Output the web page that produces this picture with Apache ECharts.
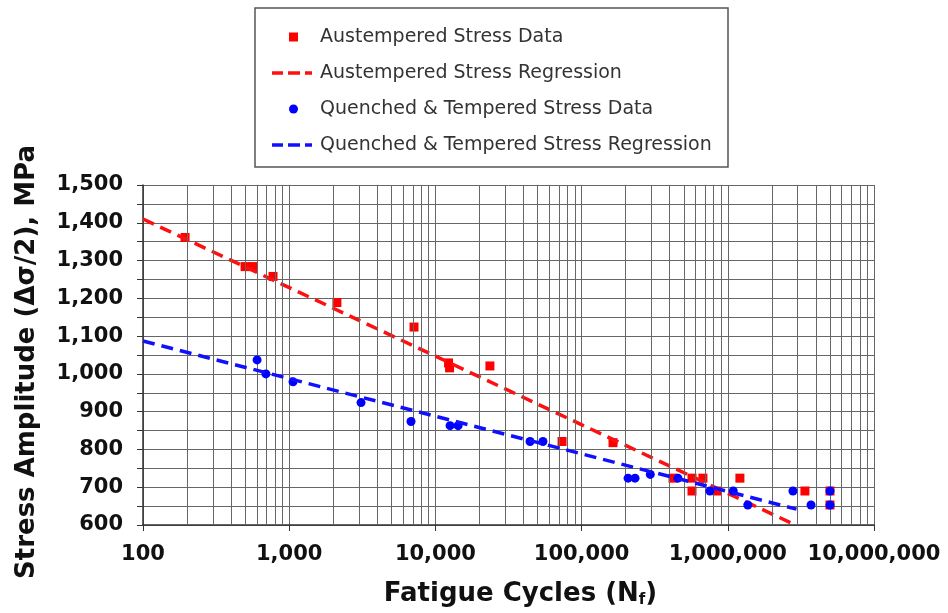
<!DOCTYPE html>
<html>
<head>
<meta charset="utf-8">
<script src="https://cdn.jsdelivr.net/npm/echarts@6/dist/echarts.min.js"></script>
<style>
  html, body { margin: 0; padding: 0; background: #fff; }
  #chart { width: 948px; height: 613px; }
</style>
</head>
<body>
<div id="chart"></div>
<script>
// Austempered stress data (cycles, MPa)
const atCycles = [194, 499, 565, 775, 2120, 7140, 12300, 12500, 23600, 73500, 164000, 422000, 569000, 676000, 569000, 844000, 1210000, 3370000, 5000000, 5000000]
const atStress = [1361, 1284, 1284, 1258, 1189, 1124, 1029, 1016, 1021, 821, 818, 724, 724, 724, 690, 690, 724, 690, 690, 653]

// Quenched & tempered stress data
const qtCycles = [603, 693, 1062, 3100, 6810, 12600, 14300, 44400, 54400, 208000, 232000, 295000, 456000, 755000, 1090000, 1370000, 2790000, 3710000, 5000000, 5000000]
const qtStress = [1037, 1000, 979, 924, 874, 863, 863, 821, 821, 724, 724, 734, 724, 690, 690, 653, 690, 653, 690, 653]

// regression lines (end points)
const atRegCycles = [100, 2900000]
const atRegStress = [1410, 600]
const qtRegCycles = [100, 2950000]
const qtRegStress = [1087, 642]

const yMin = 600
const yMax = 1500

const legendNames = [
  'Austempered Stress Data',
  'Austempered Stress Regression',
  'Quenched & Tempered Stress Data',
  'Quenched & Tempered Stress Regression',
]

const zip = (xs, ys) => xs.map((x, i) => [x, ys[i]])

// minor vertical grid lines 2..9 of each decade
const minorX = []
for (let d = 100; d < 1e7; d *= 10) {
  for (let k = 2; k <= 9; k++) minorX.push(k * d)
}

const FONT = 'DejaVu Sans'
const gridColor = '#666'
const dashIcon = 'path://M0,0h11v3.5h-11z M16,0h12v3.5h-12z M33,0h7v3.5h-7z'

// one legend per row, so marker and dashed icons can have their own size
function legendRow(i, isLine) {
  return {
    orient: 'vertical',
    left: isLine ? 272 : 289,
    top: 27 + 36 * i,
    padding: 0,
    itemWidth: isLine ? 40 : 9,
    itemHeight: isLine ? 3.5 : 9,
    selectedMode: false,
    data: isLine ? [{ name: legendNames[i], icon: dashIcon }] : [legendNames[i]],
    textStyle: {
      fontFamily: FONT,
      fontSize: 19,
      color: '#333',
      lineHeight: 20,
      padding: [0, 0, 0, isLine ? 3 : 17],
    },
  }
}

const chart = echarts.init(document.getElementById('chart'))
chart.setOption({
  animation: false,
  backgroundColor: '#fff',
  grid: { left: 143, right: 74, top: 185, bottom: 86 },
  legend: [legendRow(0, false), legendRow(1, true), legendRow(2, false), legendRow(3, true)],
  graphic: [
    {
      type: 'rect',
      shape: { x: 255, y: 8, width: 473, height: 159 },
      style: { fill: 'none', stroke: '#555', lineWidth: 1.5 },
      silent: true,
    },
  ],
  xAxis: {
    type: 'log',
    logBase: 10,
    min: 100,
    max: 1e7,
    name: '{a|Fatigue Cycles (N}{s|f}{a|)}',
    nameLocation: 'middle',
    nameGap: 56,
    nameTextStyle: {
      padding: [0, 0, 0, 24],
      rich: {
        a: { fontFamily: FONT, fontSize: 26, fontWeight: 'bold', color: '#111' },
        s: { fontFamily: FONT, fontSize: 15, fontWeight: 'bold', color: '#111', verticalAlign: 'bottom', padding: [12, 0, 0, 0] },
      },
    },
    axisLine: { lineStyle: { color: '#333', width: 1.5 } },
    axisTick: { length: 6, lineStyle: { color: '#333' } },
    axisLabel: {
      margin: 19,
      fontFamily: FONT,
      fontSize: 21,
      fontWeight: 'bold',
      color: '#111',
      formatter: (v) => Math.round(v).toLocaleString('en-US'),
    },
    splitLine: { show: true, lineStyle: { color: gridColor, width: 1 } },
  },
  yAxis: {
    type: 'value',
    min: yMin,
    max: yMax,
    interval: 50,
    name: 'Stress Amplitude (Δσ/2), MPa',
    nameLocation: 'middle',
    nameGap: 103,
    nameTextStyle: {
      fontFamily: FONT,
      fontSize: 26,
      fontWeight: 'bold',
      color: '#111',
      padding: [0, 14, 0, 0],
    },
    axisLine: { show: true, lineStyle: { color: '#333', width: 1.5 } },
    axisTick: { show: true, length: 6, lineStyle: { color: '#333' } },
    axisLabel: {
      margin: 20,
      fontFamily: FONT,
      fontSize: 21,
      fontWeight: 'bold',
      color: '#111',
      formatter: (v) => (v % 100 === 0 ? v.toLocaleString('en-US') : ''),
    },
    splitLine: { show: true, lineStyle: { color: gridColor, width: 1 } },
  },
  series: [
    {
      name: 'minor-grid',
      type: 'line',
      data: [],
      z: 0,
      silent: true,
      markLine: {
        silent: true,
        symbol: ['none', 'none'],
        label: { show: false },
        lineStyle: { color: gridColor, width: 1, type: 'solid' },
        data: minorX.map((v) => ({ xAxis: v })),
      },
    },
    {
      name: legendNames[0],
      type: 'scatter',
      symbol: 'rect',
      symbolSize: 9,
      itemStyle: { color: '#ff0000', opacity: 1 },
      data: zip(atCycles, atStress),
      z: 3,
    },
    {
      name: legendNames[1],
      type: 'line',
      symbol: 'none',
      lineStyle: { color: '#ff1010', width: 3.5, type: [12, 7] },
      itemStyle: { color: '#ff1010' },
      data: zip(atRegCycles, atRegStress),
      z: 4,
    },
    {
      name: legendNames[2],
      type: 'scatter',
      symbol: 'circle',
      symbolSize: 9,
      itemStyle: { color: '#0000ff', opacity: 1 },
      data: zip(qtCycles, qtStress),
      z: 5,
    },
    {
      name: legendNames[3],
      type: 'line',
      symbol: 'none',
      lineStyle: { color: '#1010ff', width: 3.5, type: [12, 7] },
      itemStyle: { color: '#1010ff' },
      data: zip(qtRegCycles, qtRegStress),
      z: 6,
    },
  ],
})
</script>
</body>
</html>
